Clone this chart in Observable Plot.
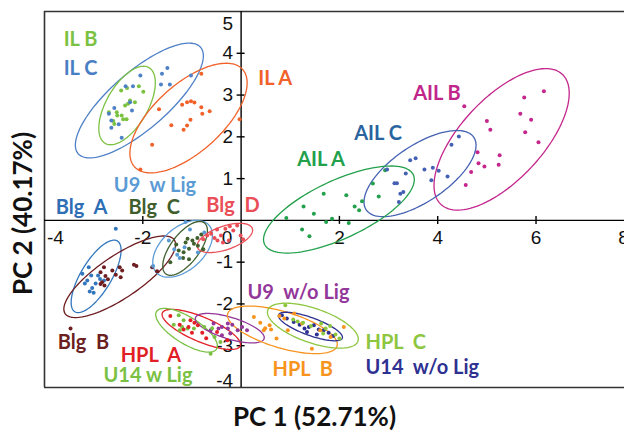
<!DOCTYPE html>
<html><head><meta charset="utf-8">
<script src="https://cdn.jsdelivr.net/npm/d3@7"></script>
<script src="https://cdn.jsdelivr.net/npm/@observablehq/plot@0.6"></script>
<style>html,body{margin:0;padding:0;background:#fff;overflow:hidden;}</style>
</head><body><div id="chart"></div>
<script>
// ---- data ----
const groups = ["IL A","IL B","IL C","AIL A","AIL B","AIL C","Blg A","Blg B","Blg C","Blg D","U9 w Lig","U9 w/o Lig","U14 w Lig","U14 w/o Lig","HPL A","HPL B","HPL C"];
const groupColors = ["#f0622a","#7cc242","#4f81c7","#22a04b","#c4268c","#4461b3","#3277bd","#6e1d20","#40602e","#ea4e57","#5b9bd5","#93379a","#7ac143","#2e3192","#e21e26","#f7941d","#8dc63f"];

const ilA = [[-0.81,3.51],[-1.67,2.66],[-1.20,2.77],[-1.10,2.83],[-1.02,2.85],[-0.95,2.82],[-0.81,2.71],[-0.64,2.61],[-0.79,2.55],[-1.03,2.41],[-1.42,2.28],[-1.10,2.27],[-1.17,2.17],[-1.81,1.81],[-0.03,2.42],[-2.05,1.22]];
const ilB = [[-2.44,3.11],[-2.32,3.17],[-2.08,3.21],[-1.99,3.08],[-2.26,2.87],[-2.16,2.83],[-2.36,2.75],[-2.30,2.79],[-2.53,2.59],[-2.52,2.51],[-2.43,2.51],[-2.40,2.42],[-2.33,2.42],[-2.60,2.38],[-2.58,2.31],[-2.69,2.59]];
const ilC = [[-2.05,3.47],[-1.50,3.65],[-1.61,3.51],[-1.63,3.25],[-1.45,3.25],[-1.02,3.47],[-2.35,3.21],[-2.20,3.21],[-2.26,2.83],[-2.22,2.63],[-2.58,2.69],[-2.69,2.55],[-2.64,2.39],[-2.49,2.30],[-2.64,2.22],[-2.43,1.98]];
const ailA = [[2.93,1.20],[2.68,0.88],[2.80,0.57],[1.68,0.64],[2.14,0.60],[2.46,0.46],[2.31,0.33],[2.40,0.24],[1.27,0.33],[1.48,0.16],[0.92,0.06],[1.85,0.04],[1.73,-0.04],[2.19,-0.06],[1.24,-0.22],[1.39,-0.38]];
const ailB = [[4.54,2.73],[5.00,2.38],[5.07,2.17],[5.68,2.55],[5.76,2.94],[6.16,3.09],[5.90,2.41],[5.78,2.11],[6.05,1.87],[4.81,1.63],[5.26,1.56],[4.83,1.37],[4.95,1.29],[5.24,1.33],[4.68,1.16],[4.57,0.85]];
const ailC = [[4.43,2.01],[4.28,1.81],[3.44,1.44],[3.55,1.49],[2.97,1.22],[3.35,1.12],[3.73,1.22],[3.90,1.26],[4.02,1.19],[4.20,1.05],[3.87,0.96],[3.12,0.89],[3.17,0.89],[3.30,0.68],[3.24,0.64],[3.21,0.44]];
const blgA = [[-2.55,-0.20],[-3.10,-1.12],[-3.23,-1.28],[-3.05,-1.32],[-2.91,-1.32],[-2.87,-1.40],[-3.13,-1.44],[-3.18,-1.51],[-2.96,-1.51],[-3.03,-1.62],[-3.00,-1.73],[-3.08,-1.70],[-2.79,-1.44]];
const blgB = [[-2.79,-1.12],[-2.86,-1.24],[-2.76,-1.33],[-2.83,-1.48],[-2.86,-1.52],[-2.78,-1.56],[-2.71,-1.41],[-2.62,-1.20],[-2.55,-1.30],[-2.47,-1.12],[-2.42,-1.20],[-2.45,-1.36],[-2.18,-1.06],[-2.13,-1.09],[-1.81,-1.12],[-1.71,-1.22],[-3.47,-2.59]];
const blgC = [[-1.44,-1.00],[-1.27,-0.72],[-1.17,-0.76],[-1.13,-0.53],[-1.09,-0.44],[-0.99,-0.48],[-1.06,-0.68],[-0.96,-0.56],[-0.89,-0.42],[-0.81,-0.34],[-0.88,-0.61],[-1.18,-0.90],[-1.06,-0.93],[-1.32,-0.58],[-0.77,-0.69]];
const blgD = [[-0.69,-0.36],[-0.61,-0.32],[-0.54,-0.42],[-0.48,-0.48],[-0.41,-0.36],[-0.32,-0.20],[-0.23,-0.14],[-0.16,-0.24],[-0.08,-0.12],[-0.01,-0.36],[0.04,-0.45],[-0.37,-0.53],[-0.25,-0.48],[-0.77,-0.45],[-0.49,-0.22]];
const u9w = [[-1.13,-0.04],[-1.30,-0.82],[-1.25,-0.90],[-1.15,-0.64],[-1.36,-0.69],[-1.04,-0.22],[-0.88,-0.77],[-0.75,-0.29],[-1.79,-1.09],[-1.47,-0.48]];
const u9wo = [[-0.56,-2.47],[-0.46,-2.59],[-0.39,-2.55],[-0.27,-2.59],[-0.18,-2.50],[-0.07,-2.63],[0.02,-2.55],[0.12,-2.63],[-0.22,-2.71],[-0.39,-2.75],[-0.62,-2.63],[-0.27,-2.47]];
const u14w = [[-1.27,-2.27],[-1.20,-2.55],[-1.09,-2.59],[-1.25,-2.63],[-1.37,-2.50],[-0.96,-2.59],[-0.75,-2.55],[-0.59,-2.58],[-0.54,-2.79],[-0.42,-2.91],[-0.62,-3.19],[-1.17,-2.39]];
const u14wo = [[0.83,-2.27],[0.93,-2.35],[1.07,-2.43],[1.19,-2.50],[1.29,-2.59],[1.38,-2.55],[1.48,-2.51],[1.58,-2.61],[1.68,-2.63],[1.78,-2.69],[1.87,-2.77],[1.54,-2.73],[1.34,-2.67]];
const hplA = [[-1.44,-2.29],[-1.03,-2.39],[-0.95,-2.45],[-1.07,-2.55],[-1.17,-2.61],[-0.88,-2.51],[-0.79,-2.69],[-1.00,-2.69],[-1.25,-2.50],[-0.71,-2.82],[-0.49,-2.67],[-0.28,-2.87]];
const hplB = [[0.26,-2.31],[0.39,-2.45],[0.49,-2.58],[0.58,-2.51],[0.46,-2.63],[0.61,-2.61],[0.72,-2.83],[0.78,-2.29],[0.88,-2.35],[1.08,-2.23],[1.44,-3.07],[1.82,-2.79],[2.09,-2.55],[0.95,-2.63],[1.24,-2.47],[1.61,-2.63]];
const hplC = [[0.90,-2.03],[1.06,-2.37],[1.15,-2.42],[1.26,-2.45],[1.42,-2.53],[1.63,-2.47],[1.72,-2.59],[1.81,-2.53],[1.67,-2.71],[1.92,-2.73],[2.00,-2.83]];
const pointSets = [["IL A",ilA],["IL B",ilB],["IL C",ilC],["AIL A",ailA],["AIL B",ailB],["AIL C",ailC],["Blg A",blgA],["Blg B",blgB],["Blg C",blgC],["Blg D",blgD],["U9 w Lig",u9w],["U9 w/o Lig",u9wo],["U14 w Lig",u14w],["U14 w/o Lig",u14wo],["HPL A",hplA],["HPL B",hplB],["HPL C",hplC]];

// confidence ellipses: group, centre x, centre y, semi-axes (x units), on-screen angle (deg)
const ellipses = [
  ["IL C",-2.07,2.87,1.65,0.58,41],["IL B",-2.32,2.75,0.89,0.42,60],["IL A",-1.07,2.45,1.48,0.69,42],
  ["AIL B",5.30,1.94,1.81,0.83,47],["AIL C",3.64,1.12,1.32,0.57,34],["AIL A",1.99,0.26,1.67,0.59,25],
  ["Blg A",-2.95,-1.34,0.84,0.31,59],["Blg B",-2.47,-1.35,1.34,0.43,34],["U9 w Lig",-1.19,-0.68,0.72,0.43,42],
  ["Blg C",-1.14,-0.67,0.65,0.29,53],["Blg D",-0.33,-0.42,0.59,0.24,19],["HPL A",-0.81,-2.61,0.86,0.25,-23],
  ["U14 w Lig",-1.11,-2.63,0.72,0.27,-32],["U9 w/o Lig",-0.23,-2.58,0.73,0.22,-17],["HPL B",0.84,-2.62,1.16,0.37,-16.5],
  ["HPL C",1.46,-2.52,0.97,0.35,-19],["U14 w/o Lig",1.41,-2.54,0.69,0.18,-20]
];

// group name labels: text, x, y (left edge / middle), colour
const groupLabels = [
  ["IL B",-3.61,4.33,"#7cc242"],["IL C",-3.61,3.64,"#4a7ec4"],["IL A",0.35,3.40,"#f0622a"],
  ["AIL B",3.50,3.04,"#c0268a"],["AIL C",2.30,2.08,"#2a649e"],["AIL A",1.14,1.46,"#22a04b"],
  ["U9  w Lig",-2.59,0.83,"#5b9bd5"],["Blg  A",-3.77,0.30,"#2e6eb5"],["Blg  C",-2.29,0.30,"#3f5e2b"],
  ["Blg  D",-0.71,0.36,"#ea4e57"],["Blg  B",-3.73,-2.92,"#6b1f1f"],["HPL  A",-2.45,-3.23,"#e21e26"],
  ["U14 w Lig",-2.80,-3.72,"#7ac143"],["U9  w/o Lig",0.13,-1.72,"#93379a"],["HPL  B",0.64,-3.56,"#f7941d"],
  ["HPL  C",2.53,-2.92,"#8dc63f"],["U14  w/o Lig",2.53,-3.52,"#2e3192"]
];

const xTicks = [-2,2,4,6];
const yTicks = [-3,-2,-1,1,2,3,4];
const xTitle = "PC 1 (52.71%)";
const yTitle = "PC 2 (40.17%)";

// ---- layout ----
const W = 624, H = 432, mL = 44, mR = 0, mT = 11, mB = 45;
const xDom = [-4, 7.8], yDom = [-4, 5];
const pxX = (W - mL - mR) / (xDom[1] - xDom[0]);
const pxY = (H - mT - mB) / (yDom[1] - yDom[0]);
const colorOf = g => groupColors[groups.indexOf(g)];

const ellipsePts = ellipses.flatMap(([g, cx, cy, a, b, deg]) => {
  const p = deg * Math.PI / 180;
  return d3.range(0, 121).map(i => {
    const t = 2 * Math.PI * i / 120;
    const dx = a * Math.cos(p) * Math.cos(t) - b * Math.sin(p) * Math.sin(t);
    const dy = a * Math.sin(p) * Math.cos(t) + b * Math.cos(p) * Math.sin(t);
    return {g, x: cx + dx, y: cy + dy * pxX / pxY, c: colorOf(g)};
  });
});
const points = pointSets.flatMap(([g, arr]) => arr.map(([x, y]) => ({g, x, y, c: colorOf(g)})));
const labels = groupLabels.map(([t, x, y, c]) => ({t, x, y, c}));

const tickFont = {fontFamily: "Liberation Sans, Arial, sans-serif", fontSize: 19, fill: "#111"};

const chart = Plot.plot({
  width: W, height: H, marginLeft: mL, marginRight: mR, marginTop: mT, marginBottom: mB,
  x: {domain: xDom, axis: null},
  y: {domain: yDom, axis: null},
  color: {type: "identity"},
  style: {fontFamily: "Lato, sans-serif", background: "#fff", overflow: "hidden"},
  marks: [
    // frame (left, top, bottom)
    Plot.ruleY([yDom[1], yDom[0]], {stroke: "#333", strokeWidth: 1.6}),
    Plot.ruleX([xDom[0]], {stroke: "#333", strokeWidth: 1.6}),
    // axes through the origin
    Plot.ruleY([0], {stroke: "#000", strokeWidth: 1.4}),
    Plot.ruleX([0], {stroke: "#000", strokeWidth: 1.4}),
    Plot.ruleX(xTicks, {x: d => d, y1: 0, y2: 0, insetTop: -4, insetBottom: -4, stroke: "#000", strokeWidth: 1.4}),
    Plot.ruleY(yTicks, {y: d => d, x1: 0, x2: 0, insetLeft: -4, insetRight: -4, stroke: "#000", strokeWidth: 1.4}),
    // tick labels
    Plot.text(xTicks, {x: d => d, y: 0, text: d => String(d), dy: 18, ...tickFont}),
    Plot.text([-4], {x: d => d, y: 0, text: d => String(d), dy: 18, dx: 11, ...tickFont}),
    Plot.text([0], {x: d => d, y: 0, text: d => String(d), dy: 18, dx: -14, ...tickFont}),
    Plot.text([8], {x: d => d, y: 0, text: d => String(d), dy: 18, dx: -16, textAnchor: "start", ...tickFont}),
    Plot.text(yTicks, {x: 0, y: d => d, text: d => String(d), dx: -8, textAnchor: "end", ...tickFont}),
    Plot.text([5], {x: 0, y: d => d, text: d => String(d), dx: -8, dy: 12, textAnchor: "end", ...tickFont}),
    Plot.text([-4], {x: 0, y: d => d, text: d => String(d), dx: -8, dy: -7, textAnchor: "end", ...tickFont}),
    // ellipses
    Plot.line(ellipsePts, {x: "x", y: "y", z: "g", stroke: "c", strokeWidth: 1.3, curve: "linear"}),
    // points
    Plot.dot(points, {x: "x", y: "y", fill: "c", r: 2, stroke: null}),
    // group labels
    Plot.text(labels, {x: "x", y: "y", text: "t", fill: "c", textAnchor: "start", lineAnchor: "middle", fontSize: 20, fontWeight: "bold"}),
    // axis titles
    Plot.text([xTitle], {frameAnchor: "bottom", text: d => d, textAnchor: "middle", lineAnchor: "middle", dy: 30, dx: -20, fontSize: 26, fontWeight: "bold", fill: "#111"}),
    Plot.text([yTitle], {frameAnchor: "left", text: d => d, textAnchor: "middle", lineAnchor: "middle", rotate: -90, dx: -21, dy: 14, fontSize: 26, fontWeight: "bold", fill: "#111"})
  ]
});
document.getElementById("chart").appendChild(chart);
</script>
</body></html>
